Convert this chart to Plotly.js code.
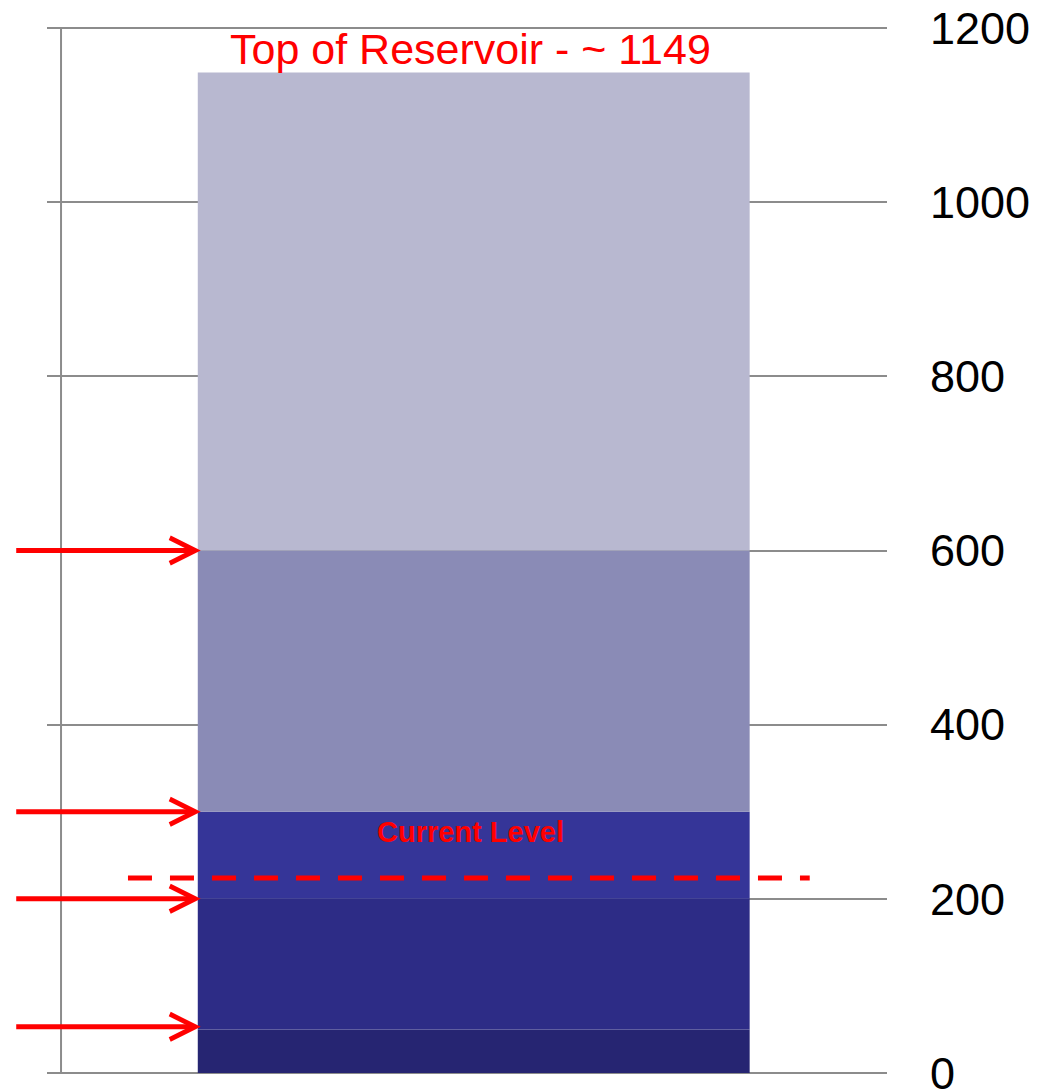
<!DOCTYPE html>
<html>
<head>
<meta charset="utf-8">
<script src="https://cdn.plot.ly/plotly-3.0.1.min.js"></script>
<style>html,body{margin:0;padding:0;background:#fff;}#chart{width:1040px;height:1091px;}</style>
</head>
<body>
<div id="chart"></div>
<script>
// Reservoir zone boundaries (top of each band, bottom to top)
const zoneTops = [50, 200, 300, 600, 1149];
const zoneColors = ['#262572', '#2D2C86', '#353598', '#8A8BB6', '#B8B8D0'];
const currentLevel = 224;
const arrowLevels = [600, 300, 200, 53];
const topLabel = 'Top of Reservoir - ~ 1149';
const currentLabel = 'Current Level';
const yTicks = [0, 200, 400, 600, 800, 1000, 1200];

const traces = zoneTops.map((top, i) => {
  const bottom = i === 0 ? 0 : zoneTops[i - 1];
  return {
    type: 'bar',
    x: [0],
    y: [top - bottom],
    base: [bottom],
    width: [0.657],
    marker: {color: zoneColors[i], line: {width: 0}},
    hoverinfo: 'skip',
    showlegend: false
  };
});

const red = '#FF0000';
const grey = '#8C8C8C';

const annotations = arrowLevels.map(lv => ({
  xref: 'paper', yref: 'y',
  x: 0.183, y: lv,
  ax: -186, ay: 0, axref: 'pixel', ayref: 'pixel',
  text: '', showarrow: true,
  arrowhead: 5, arrowsize: 1.0, arrowwidth: 5, arrowcolor: red,
  standoff: 0
}));

annotations.push({
  xref: 'paper', yref: 'y',
  x: 0.5036, y: zoneTops[zoneTops.length - 1],
  xanchor: 'center', yanchor: 'bottom', yshift: -3,
  text: topLabel, showarrow: false,
  font: {family: 'Liberation Sans, Arial, sans-serif', size: 43, color: red}
});

annotations.push({
  xref: 'paper', yref: 'y',
  x: 0.5036, y: 277,
  xanchor: 'center', yanchor: 'middle',
  text: '<b>' + currentLabel + '</b>', showarrow: false,
  font: {family: 'Liberation Sans, Arial, sans-serif', size: 29, color: red}
});

const shapes = [
  // category-axis line on the left
  {type: 'line', xref: 'paper', yref: 'paper', x0: 0.0167, x1: 0.0167, y0: 0, y1: 1,
   line: {color: grey, width: 2}, layer: 'below'},
  // grid lines at the range edges (Plotly drops these)
  {type: 'line', xref: 'paper', yref: 'paper', x0: 0, x1: 1, y0: 0, y1: 0,
   line: {color: grey, width: 2}, layer: 'below'},
  {type: 'line', xref: 'paper', yref: 'paper', x0: 0, x1: 1, y0: 1, y1: 1,
   line: {color: grey, width: 2}, layer: 'below'},
  // current level dashed line
  {type: 'line', xref: 'paper', yref: 'y', x0: 0.0964, x1: 0.908, y0: currentLevel, y1: currentLevel,
   line: {color: red, width: 5, dash: '24px,18px'}, layer: 'above'}
];

const layout = {
  width: 1040, height: 1091,
  margin: {l: 47, r: 153, t: 28, b: 18, pad: 0},
  paper_bgcolor: '#FFFFFF', plot_bgcolor: '#FFFFFF',
  barmode: 'overlay',
  showlegend: false,
  xaxis: {range: [-0.508, 0.492], visible: false, fixedrange: true},
  yaxis: {
    range: [0, 1200], side: 'right',
    tickvals: yTicks, ticktext: yTicks.map(String),
    showgrid: true, gridcolor: grey, gridwidth: 2,
    zeroline: false, showline: false, ticks: '',
    ticklabelstandoff: 42,
    ticklabeloverflow: 'allow',
    tickfont: {family: 'Liberation Sans, Arial, sans-serif', size: 45, color: '#000000'},
    fixedrange: true
  },
  shapes: shapes,
  annotations: annotations,
  font: {family: 'Liberation Sans, Arial, sans-serif'}
};

Plotly.newPlot('chart', traces, layout, {displayModeBar: false, staticPlot: true});
</script>
</body>
</html>
